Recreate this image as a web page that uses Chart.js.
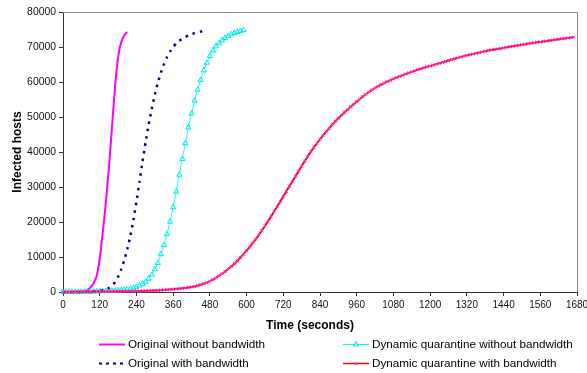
<!DOCTYPE html>
<html><head><meta charset="utf-8">
<script src="https://cdn.jsdelivr.net/npm/chart.js@4.4.0/dist/chart.umd.min.js"></script>
<style>html,body{margin:0;padding:0;background:#fff;}#wrap{width:587px;height:373px;position:relative;}</style>
</head><body><div id="wrap"><canvas id="c" width="587" height="373"></canvas></div>
<script>
const times = [
0,10,20,30,40,50,60,70,80,90,
100,110,120,130,140,150,160,170,180,190,
200,210,220,230,240,250,260,270,280,290,
300,310,320,330,340,350,360,370,380,390,
400,410,420,430,440,450,460,470,480,490,
500,510,520,530,540,550,560,570,580,590,
600,610,620,630,640,650,660,670,680,690,
700,710,720,730,740,750,760,770,780,790,
800,810,820,830,840,850,860,870,880,890,
900,910,920,930,940,950,960,970,980,990,
1000,1010,1020,1030,1040,1050,1060,1070,1080,1090,
1100,1110,1120,1130,1140,1150,1160,1170,1180,1190,
1200,1210,1220,1230,1240,1250,1260,1270,1280,1290,
1300,1310,1320,1330,1340,1350,1360,1370,1380,1390,
1400,1410,1420,1430,1440,1450,1460,1470,1480,1490,
1500,1510,1520,1530,1540,1550,1560,1570,1580,1590,
1600,1610,1620,1630,1640,1650,1660,1670];
const seriesNames = ['Original without bandwidth','Original with bandwidth','Dynamic quarantine without bandwidth','Dynamic quarantine with bandwidth'];
const xAxisTitle = 'Time (seconds)';
const yAxisTitle = 'Infected hosts';
const xTicks = [0,120,240,360,480,600,720,840,960,1080,1200,1320,1440,1560,1680];
const yTicks = [0,10000,20000,30000,40000,50000,60000,70000,80000];
const origNoBw = [0,0,10,20,40,70,120,250,600,1300,2500,4600,9500,17000,25500,35500,47000,58500,67000,71300,73300,74300];
const origBw = [0,0,10,10,20,30,40,60,80,110,150,220,320,480,750,1150,1800,2800,4300,6400,9000,12200,16000,20500,25800,31500,37300,42800,47800,52300,56300,59800,62700,65100,67100,68700,70000,71000,71800,72400,72900,73300,73650,73950,74200,74400,74600,74800];
const dynNoBw = [0,10,20,30,40,50,60,80,100,120,150,180,210,250,290,330,380,430,480,540,
600,750,950,1200,1500,1850,2300,2900,3800,4900,
6500,8300,10800,13400,16500,20100,24200,28700,33500,38000,
42500,47000,51000,54700,57800,60600,63300,65500,67400,69000,
70200,71100,71900,72600,73100,73600,74000,74300,74550,74800];
const dynBw = [
0,10,20,30,40,50,60,70,80,90,
100,110,120,130,140,150,160,170,180,190,
200,210,225,240,260,280,300,330,360,400,
440,480,530,590,660,740,820,890,960,1060,
1170,1290,1430,1600,1800,2050,2350,2700,3100,3550,
4050,4600,5200,5850,6550,7300,8100,8950,9850,10800,
11800,12850,13950,15100,16300,17550,18850,20200,21600,23000,
24400,25850,27300,28750,30200,31650,33100,34550,36000,37400,
38750,40050,41300,42500,43650,44750,45800,46800,47800,48750,
49650,50500,51300,52100,52900,53650,54400,55150,55850,56500,
57150,57750,58300,58800,59250,59700,60100,60500,60900,61250,
61600,61950,62300,62600,62900,63200,63500,63800,64100,64350,
64600,64850,65100,65350,65600,65850,66150,66400,66650,66900,
67150,67400,67600,67800,68000,68200,68400,68600,68800,69000,
69150,69300,69450,69600,69750,69900,70050,70200,70350,70500,
70650,70800,70950,71100,71200,71350,71450,71600,71700,71850,
71950,72100,72200,72350,72450,72600,72700,72800];

const pts = arr => arr.map((v,i)=>({x: times[i], y: v}));
const FONT = "'Liberation Sans', Arial, sans-serif";

const datasets = [
  {label: seriesNames[0], data: pts(origNoBw), borderColor:'#FF00FF', borderWidth:2, pointRadius:0, order:4, clip:6},
  {label: seriesNames[1], data: pts(origBw), borderColor:'#000080', borderWidth:2.5, borderDash:[2.5,5], pointRadius:0, order:2, clip:6},
  {label: seriesNames[2], data: pts(dynNoBw), borderColor:'#00FFFF', borderWidth:1, pointStyle:'triangle', pointRadius:3, pointBorderColor:'#00E5E5', pointBackgroundColor:'rgba(200,255,255,0.6)', pointBorderWidth:1, order:3, clip:6},
  {label: seriesNames[3], data: pts(dynBw), borderColor:'#FF0000', borderWidth:2, pointStyle:'crossRot', pointRadius:2.2, pointBorderColor:'#FF33DD', pointBorderWidth:1, order:1, clip:6}
];

const legendPos = [
  {ds:0, x:99, y:344},
  {ds:1, x:99, y:363},
  {ds:2, x:343, y:344},
  {ds:3, x:343, y:363}
];

const extras = {
  id:'extras',
  beforeDatasetsDraw(chart){
    const {ctx, chartArea:a} = chart;
    ctx.save();
    ctx.strokeStyle = '#888';
    ctx.lineWidth = 1;
    ctx.beginPath();
    ctx.moveTo(a.left, a.top+0.5); ctx.lineTo(a.right+0.5, a.top+0.5);
    ctx.lineTo(a.right+0.5, a.bottom);
    ctx.stroke();
    ctx.restore();
  },
  afterDraw(chart){
    const ctx = chart.ctx;
    ctx.save();
    ctx.fillStyle = '#000';
    ctx.font = "bold 12px " + FONT;
    ctx.textAlign = 'center'; ctx.textBaseline = 'middle';
    ctx.fillText(xAxisTitle, 310, 326);
    ctx.font = "11.7px " + FONT;
    ctx.textAlign = 'left';
    legendPos.forEach(p => {
      const d = chart.data.datasets[p.ds];
      ctx.save();
      ctx.strokeStyle = d.borderColor;
      ctx.lineWidth = p.ds===1 ? 2 : (p.ds===3 ? 1.5 : (d.borderWidth||1));
      ctx.setLineDash(p.ds===1 ? [3,4] : (d.borderDash || []));
      ctx.beginPath(); ctx.moveTo(p.x, p.y+0.5); ctx.lineTo(p.x+26, p.y+0.5); ctx.stroke();
      ctx.setLineDash([]);
      if (d.pointRadius) {
        ctx.fillStyle = d.pointBackgroundColor || 'rgba(0,0,0,0)';
        ctx.strokeStyle = d.pointBorderColor;
        ctx.lineWidth = d.pointBorderWidth;
        Chart.helpers.drawPoint(ctx, {pointStyle:d.pointStyle, radius:d.pointRadius, borderWidth:d.pointBorderWidth, rotation:0}, p.x+13, p.y+0.5);
      }
      ctx.restore();
      ctx.fillStyle = '#000';
      ctx.fillText(d.label, p.x+29, p.y+1);
    });
    ctx.restore();
  }
};

new Chart(document.getElementById('c'), {
  type:'line',
  data:{datasets},
  options:{
    responsive:false, animation:false, devicePixelRatio:1,
    layout:{padding:{left:0, right:10, top:12, bottom:0}},
    plugins:{legend:{display:false}, tooltip:{enabled:false}},
    elements:{line:{tension:0.2}},
    scales:{
      x:{type:'linear', min:0, max:1680,
        afterBuildTicks: s => { s.ticks = xTicks.map(v=>({value:v})); },
        afterFit: s => { s.height = 81; s.paddingLeft = 0; s.paddingRight = 0; },
        grid:{drawOnChartArea:false, drawTicks:true, tickLength:4, color:'#333'},
        border:{display:true, color:'#333', width:1},
        ticks:{autoSkip:false, maxRotation:0, padding:3, color:'#111', font:{family:FONT, size:10}, callback: v => String(v)},
      },
      y:{type:'linear', min:0, max:80000,
        afterBuildTicks: s => { s.ticks = yTicks.map(v=>({value:v})); },
        afterFit: s => { s.width = 63; s.paddingTop = 0; s.paddingBottom = 0; },
        grid:{drawOnChartArea:false, drawTicks:true, tickLength:4, color:'#333'},
        border:{display:true, color:'#333', width:1},
        ticks:{padding:3, color:'#111', font:{family:FONT, size:10.4}, callback: v => String(v)},
        title:{display:true, text:yAxisTitle, color:'#000', font:{family:FONT, size:12, weight:'bold'}, padding:{top:10.4, bottom:0}}
      }
    }
  },
  plugins:[extras]
});
</script></body></html>
